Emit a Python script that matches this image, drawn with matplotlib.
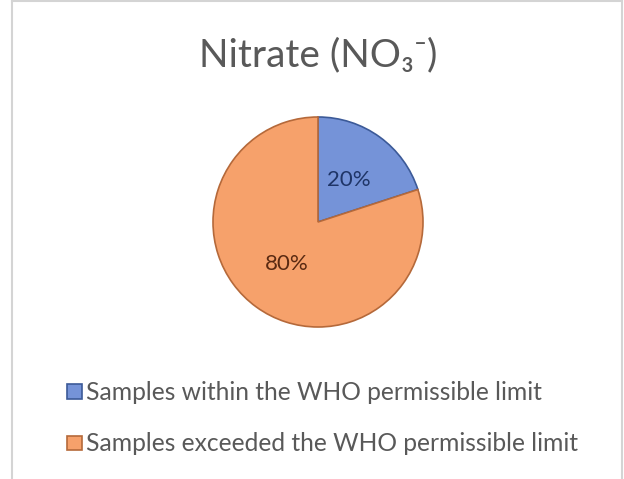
import matplotlib
matplotlib.use('Agg')
from matplotlib import pyplot as plt
from matplotlib.lines import Line2D

plt.rcParams['font.family'] = ['Lato', 'DejaVu Sans']

title = 'Nitrate (NO₃⁻)'
categories = ['Samples within the WHO permissible limit',
              'Samples exceeded the WHO permissible limit']
shares = [20, 80]

fill_colors = ['#7593d8', '#f6a16b']
edge_colors = ['#3c5a98', '#b5693a']
label_colors = ['#1f3567', '#5a2a12']
text_grey = '#595959'

W, H = 624, 479
fig = plt.figure(figsize=(W / 100, H / 100), dpi=100)

# chart area frame (left, top and right edges only)
fx = lambda px: px / W
fy = lambda py: 1 - py / H
frame_kw = dict(color='#d4d4d4', linewidth=1.5, transform=fig.transFigure)
fig.add_artist(Line2D([fx(12), fx(12)], [fy(1), 0], **frame_kw))
fig.add_artist(Line2D([fx(12), fx(622)], [fy(1), fy(1)], **frame_kw))
fig.add_artist(Line2D([fx(622), fx(622)], [fy(1), 0], **frame_kw))

fig.text(fx(318), fy(55), title, ha='center', va='center',
         fontsize=28, color=text_grey)

# pie: centre at (318, 222) px, radius about 105 px
r = 105
ax = fig.add_axes([fx(318 - r), fy(222 + r), 2 * r / W, 2 * r / H])
wedges, texts, autotexts = ax.pie(
    shares, startangle=90, counterclock=False,
    colors=fill_colors, autopct='%d%%', pctdistance=0.5,
    wedgeprops=dict(linewidth=1.2))
for w, ec in zip(wedges, edge_colors):
    w.set_edgecolor(ec)
for t, c in zip(autotexts, label_colors):
    t.set_color(c)
    t.set_fontsize(16)
ax.set_xlim(-1, 1)
ax.set_ylim(-1, 1)
ax.set_aspect('equal')
ax.axis('off')

leg = fig.legend(wedges, categories, loc='upper left',
                 bbox_to_anchor=(fx(45), fy(359)),
                 frameon=False, fontsize=17.7, labelcolor=text_grey,
                 handlelength=0.6, handleheight=0.52,
                 handletextpad=0.16, labelspacing=1.15)
for h, ec in zip(leg.legend_handles, edge_colors):
    h.set_edgecolor(ec)
    h.set_linewidth(1.2)

fig.savefig('out.png', dpi=100)
